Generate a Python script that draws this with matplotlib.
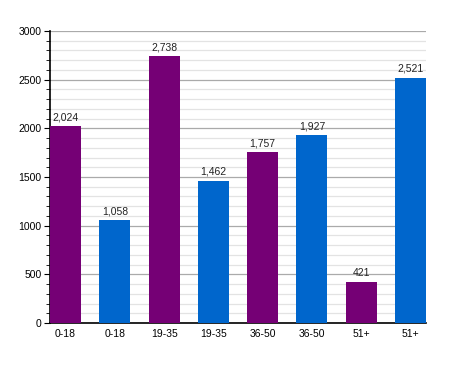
import matplotlib.pyplot as plt
from matplotlib.ticker import MultipleLocator

labels = ['0-18', '0-18', '19-35', '19-35', '36-50', '36-50', '51+', '51+']
values = [2024, 1058, 2738, 1462, 1757, 1927, 421, 2521]
colors = ['#750075', '#0066cc'] * 4

plt.rcParams['font.family'] = ['Liberation Sans', 'DejaVu Sans']

fig = plt.figure(figsize=(4.55, 3.73), dpi=100)
ax = fig.add_axes([0.110, 0.134, 0.826, 0.783])

x = range(len(values))
bars = ax.bar(x, values, width=0.63, color=colors, zorder=3)
for b, v in zip(bars, values):
    ax.text(b.get_x() + b.get_width() / 2, v + 40, f'{v:,}',
            ha='center', va='bottom', fontsize=7.5, color='#222222', zorder=4)

ax.set_xlim(-0.315, 7.315)
ax.set_ylim(0, 3000)
ax.yaxis.set_major_locator(MultipleLocator(500))
ax.yaxis.set_minor_locator(MultipleLocator(100))
ax.grid(which='major', axis='y', color='#aaaaaa', linewidth=0.9, zorder=0)
ax.grid(which='minor', axis='y', color='#e3e3e3', linewidth=0.9, zorder=0)
ax.set_xticks(list(x))
ax.set_xticklabels(labels)
ax.tick_params(axis='x', length=0, labelsize=7.5, pad=4)
ax.tick_params(axis='y', which='major', length=4, labelsize=7.5, pad=2)
ax.tick_params(axis='y', which='minor', length=3)
for s in ['top', 'right']:
    ax.spines[s].set_visible(False)
ax.spines['left'].set_linewidth(1.2)
ax.spines['bottom'].set_linewidth(1.2)

fig.savefig('out.png', dpi=100)
